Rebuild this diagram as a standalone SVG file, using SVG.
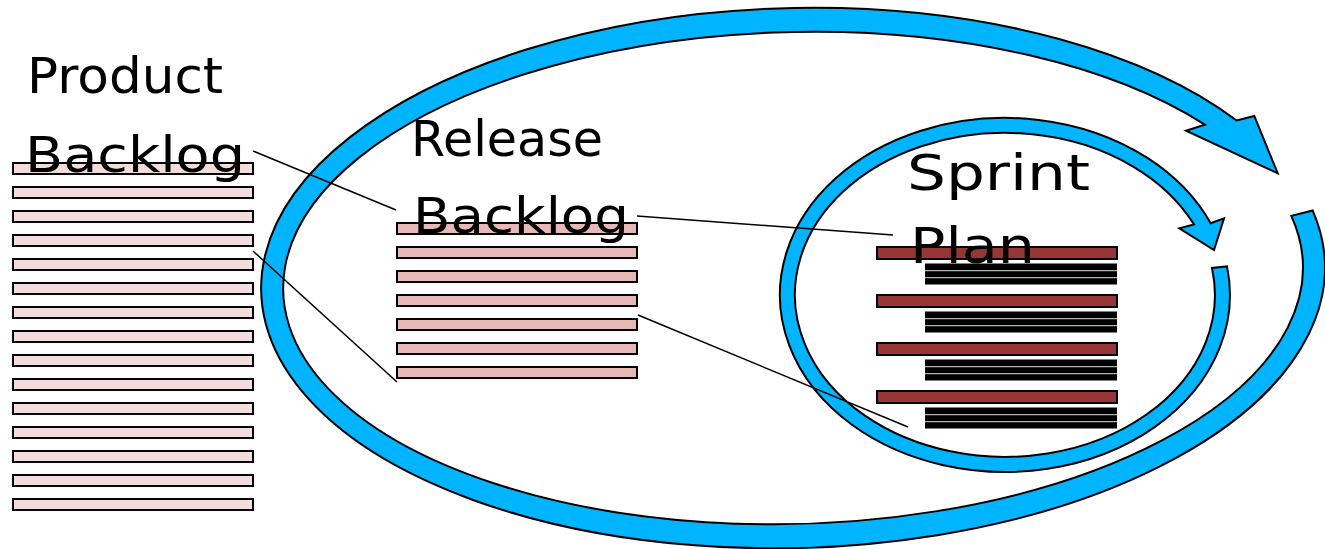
<svg xmlns="http://www.w3.org/2000/svg" width="1325" height="549" viewBox="0 0 1325 549">
<style>
.ring{fill:#00B4FF;stroke:#000;stroke-width:2;stroke-linejoin:miter}
.pb{fill:#F2DCDB;stroke:#000;stroke-width:2}
.rb{fill:#E6B9B8;stroke:#000;stroke-width:2}
.sb{fill:#953735;stroke:#000;stroke-width:2}
.task{fill:#000}
.gap{stroke:#b0b0b0;stroke-width:1.2}
.lbl{font-family:"DejaVu Sans",sans-serif;font-size:50px;fill:#000}
.conn{stroke:#000;stroke-width:1.5;fill:none}
</style>
<defs>
<g id="tasks">
<rect class="task" x="925" y="0" width="192" height="21"/>
<line class="gap" x1="925" y1="7.2" x2="1117" y2="7.2"/>
<line class="gap" x1="925" y1="14.2" x2="1117" y2="14.2"/>
</g>
</defs>
<rect width="1325" height="549" fill="#fff"/>
<g id="release-cycle">
<path class="ring" d="M1312.73,210.54 A532,270 -1.5 1 1 1236.71,120.47 L1254.3,116 L1277.7,173.3 L1186,130.7 L1204.85,124.67 A510,246 -1.5 1 0 1291.31,215.9 Z"/>
</g>
<g id="sprint-cycle">
<path class="ring" d="M1227,266.4 A225,177 0 1 1 1210.7,223.3 L1224,218.3 L1214,250 L1179.3,228.3 L1194,224.4 A210,162 0 1 0 1212,268 Z"/>
</g>
<g id="product-backlog">
<rect class="pb" x="13" y="163" width="240" height="11"/>
<rect class="pb" x="13" y="187" width="240" height="11"/>
<rect class="pb" x="13" y="211" width="240" height="11"/>
<rect class="pb" x="13" y="235" width="240" height="11"/>
<rect class="pb" x="13" y="259" width="240" height="11"/>
<rect class="pb" x="13" y="283" width="240" height="11"/>
<rect class="pb" x="13" y="307" width="240" height="11"/>
<rect class="pb" x="13" y="331" width="240" height="11"/>
<rect class="pb" x="13" y="355" width="240" height="11"/>
<rect class="pb" x="13" y="379" width="240" height="11"/>
<rect class="pb" x="13" y="403" width="240" height="11"/>
<rect class="pb" x="13" y="427" width="240" height="11"/>
<rect class="pb" x="13" y="451" width="240" height="11"/>
<rect class="pb" x="13" y="475" width="240" height="11"/>
<rect class="pb" x="13" y="499" width="240" height="11"/>
<text class="lbl" x="27" y="93" textLength="196" lengthAdjust="spacingAndGlyphs">Product</text>
<text class="lbl" x="25" y="172" textLength="220" lengthAdjust="spacingAndGlyphs">Backlog</text>
</g>
<g id="release-backlog">
<rect class="rb" x="397" y="223" width="240" height="11"/>
<rect class="rb" x="397" y="247" width="240" height="11"/>
<rect class="rb" x="397" y="271" width="240" height="11"/>
<rect class="rb" x="397" y="295" width="240" height="11"/>
<rect class="rb" x="397" y="319" width="240" height="11"/>
<rect class="rb" x="397" y="343" width="240" height="11"/>
<rect class="rb" x="397" y="367" width="240" height="11"/>
<text class="lbl" x="411" y="156" textLength="192" lengthAdjust="spacingAndGlyphs">Release</text>
<text class="lbl" x="413" y="233" textLength="216" lengthAdjust="spacingAndGlyphs">Backlog</text>
</g>
<g id="sprint-plan">
<rect class="sb" x="877" y="247" width="240" height="12"/>
<use href="#tasks" y="263.5"/>
<rect class="sb" x="877" y="295" width="240" height="12"/>
<use href="#tasks" y="311.5"/>
<rect class="sb" x="877" y="343" width="240" height="12"/>
<use href="#tasks" y="359.5"/>
<rect class="sb" x="877" y="391" width="240" height="12"/>
<use href="#tasks" y="407.5"/>
<text class="lbl" x="907" y="190" textLength="183" lengthAdjust="spacingAndGlyphs">Sprint</text>
<text class="lbl" x="910" y="263" textLength="125" lengthAdjust="spacingAndGlyphs">Plan</text>
</g>
<g id="connectors">
<line class="conn" x1="253" y1="151" x2="396" y2="210"/>
<line class="conn" x1="253" y1="251" x2="397" y2="382"/>
<line class="conn" x1="637" y1="216" x2="893" y2="235"/>
<line class="conn" x1="638" y1="315" x2="908" y2="427"/>
</g>
</svg>
